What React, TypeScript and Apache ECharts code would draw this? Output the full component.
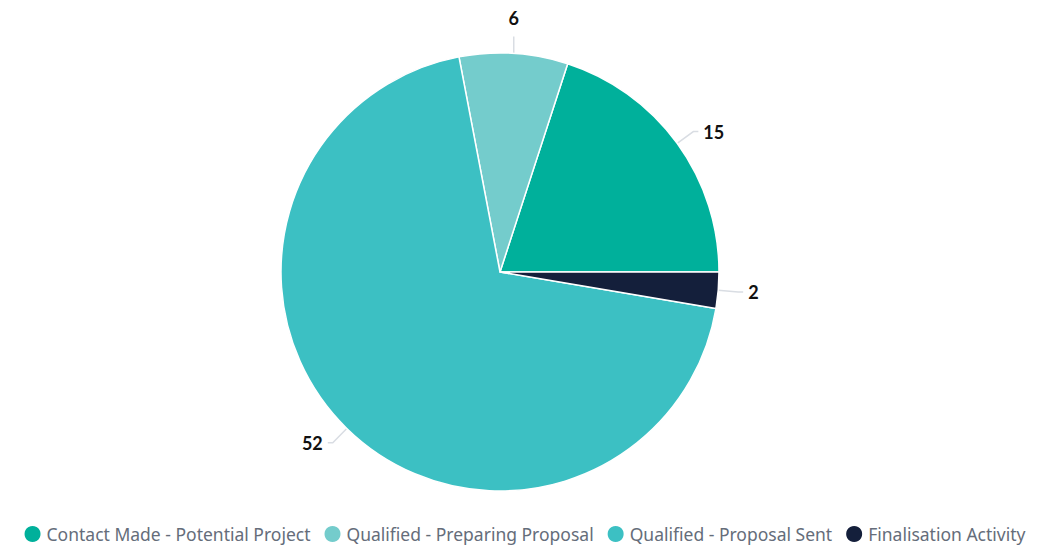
import React, { useEffect, useRef } from "react";
import * as echarts from "echarts";

const categories = [
  "Contact Made - Potential Project",
  "Qualified - Preparing Proposal",
  "Qualified - Proposal Sent",
  "Finalisation Activity",
];
const values = [15, 6, 52, 2];
const colors = ["#00b09b", "#74cccc", "#3cc0c3", "#141f3b"];

export default function App() {
  const ref = useRef<HTMLDivElement>(null);
  useEffect(() => {
    const chart = echarts.init(ref.current!, null, { renderer: "svg" });
    chart.setOption({
      animation: false,
      color: colors,
      legend: {
        top: 524,
        left: "center",
        padding: 0,
        icon: "circle",
        itemWidth: 18,
        itemHeight: 18,
        itemGap: 12,
        textStyle: { fontFamily: "Noto Sans", fontSize: 17.5, color: "#656d7a" },
        data: categories,
      },
      series: [
        {
          type: "pie",
          center: [500, 272],
          radius: 219,
          startAngle: 0,
          clockwise: false,
          itemStyle: { borderColor: "#ffffff", borderWidth: 1.5 },
          label: {
            show: true,
            formatter: "{c}",
            fontFamily: "Lato",
            fontWeight: "bold",
            fontSize: 18,
            color: "#111111",
          },
          labelLine: {
            show: true,
            length: 20,
            length2: 5,
            lineStyle: { color: "#d9dde3", width: 1.5 },
          },
          labelLayout: (params: any) => {
            if (params.dataIndex === 1 && params.labelLinePoints) {
              const p0 = params.labelLinePoints[0];
              const top = [p0[0], p0[1] - 17];
              return {
                x: p0[0],
                y: p0[1] - 35,
                align: "center",
                verticalAlign: "middle",
                labelLinePoints: [p0, top, top],
              };
            }
            return {};
          },
          data: categories.map((name, i) => ({ name, value: values[i] })),
        },
      ],
    });
    return () => chart.dispose();
  }, []);
  return (
    <div
      ref={ref}
      style={{ position: "absolute", left: 0, top: 0, width: 1048, height: 545 }}
    />
  );
}
